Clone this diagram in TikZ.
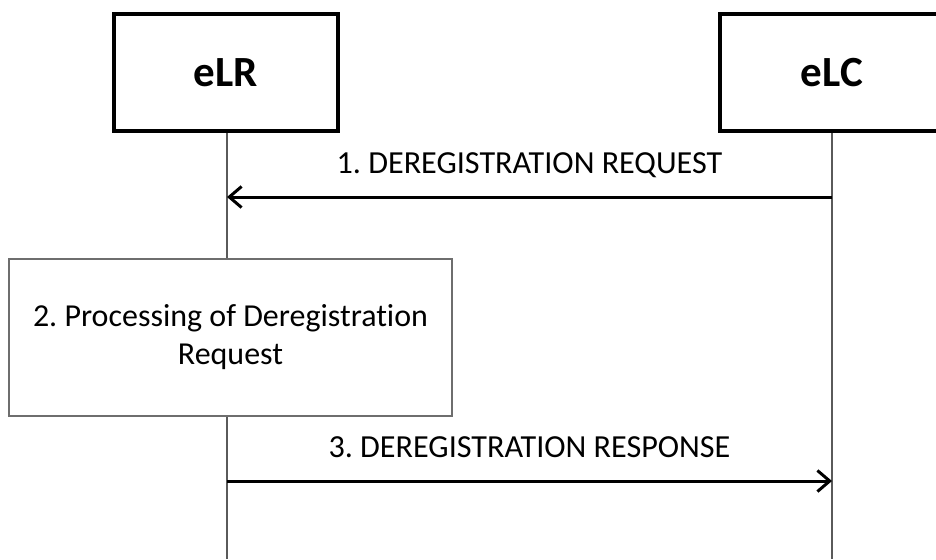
\documentclass[tikz,border=0pt]{standalone}
\usepackage{fontspec}
\setmainfont{Carlito}[Ligatures=NoCommon]
\definecolor{lifegray}{RGB}{90, 90, 90}
\definecolor{boxgray}{RGB}{110, 110, 110}
\usetikzlibrary{arrows.meta, positioning, calc}
\frenchspacing

\begin{document}
\begin{tikzpicture}[x=0.02cm, y=-0.02cm,
    entity/.style={draw, line width=2.3pt, minimum width=4.48cm, minimum height=2.34cm, font=\fontsize{24.5}{29}\selectfont\bfseries},
    lifeline/.style={draw=lifegray, line width=0.8pt},
    msg/.style={line width=1.7pt, -{Straight Barb[length=7pt, width=12pt, line width=1.7pt]}},
    msglabel/.style={midway, anchor=base, yshift=0.48cm, font=\fontsize{18.3}{21}\selectfont}]
  \clip (0, 0) rectangle (936, 559);
  \useasboundingbox (0, 0) rectangle (936, 559);

  % entities
  \node[entity] (elr) at (226, 72.5) {eLR};
  \node[entity] (elc) at (832, 72.5) {eLC};

  % lifelines
  \coordinate (elrend) at (227, 559);
  \coordinate (elcend) at (832, 559);
  \draw[lifeline] (elr.south -| elrend) -- (elrend);
  \draw[lifeline] (elc.south) -- (elcend);

  % messages
  \coordinate (reqfrom) at (832, 197);
  \coordinate (reqto) at (227, 197);
  \coordinate (respfrom) at (227, 481);
  \coordinate (respto) at (832, 481);
  \draw[msg] (reqfrom) -- node[msglabel] {1. DEREGISTRATION REQUEST} (reqto);

  % processing step
  \node[draw=boxgray, fill=white, line width=0.8pt, minimum width=8.86cm, minimum height=3.14cm,
        align=center, font=\fontsize{18.2}{21.6}\selectfont] (proc) at (230.5, 337.5)
        {2. Processing of Deregistration\\Request};

  \draw[msg] (respfrom) -- node[msglabel] {3. DEREGISTRATION RESPONSE} (respto);
\end{tikzpicture}
\end{document}
